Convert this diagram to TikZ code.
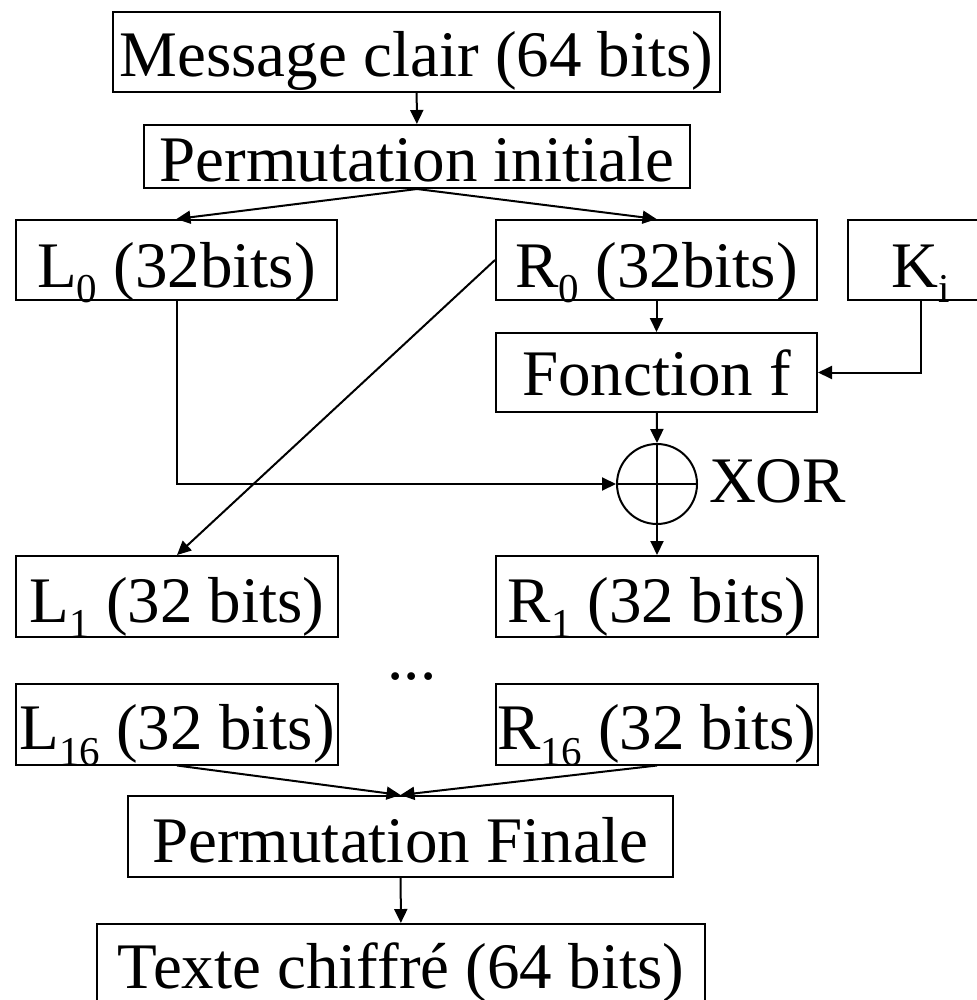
\documentclass[tikz,border=0pt]{standalone}
\usepackage{fontspec}
\setmainfont{Liberation Serif}
\usetikzlibrary{positioning,calc,arrows.meta}

\newcommand{\idx}[1]{\raisebox{-0.24em}{\fontsize{20.5}{20.5}\selectfont #1}}

\begin{document}
\begin{tikzpicture}[x=0.5pt, y=-0.5pt, line width=1pt,
  bloc/.style={draw, inner sep=0pt, text height=33pt, text depth=7.5pt, font=\fontsize{32.5}{39}\selectfont},
  fl/.style={-{Triangle[length=7pt,width=6.5pt]}}]
\useasboundingbox (0,0) rectangle (976,1000);
% top of the cipher
\node[bloc, minimum width=303.5pt, text height=32.5pt] (msg) at (416.5,52) {Message clair (64 bits)};
\node[bloc, minimum width=273pt, text height=28.5pt, text depth=3pt] (pinit) at (417,156.5) {Permutation initiale};
\node[bloc, minimum width=160.5pt, text height=33.5pt, text depth=6.5pt] (L0) at (176.5,260) {L\idx{0} (32bits)};
\node[bloc, minimum width=160.5pt, text height=33.5pt, text depth=6.5pt] (R0) at (656.5,260) {R\idx{0} (32bits)};
\node[bloc, minimum width=73pt, text height=33.5pt, text depth=6.5pt] (Ki) at (921,260) {K\idx{i}};
\node[bloc, minimum width=160.5pt, text height=31pt, text depth=8.5pt] (f) at (656.5,372.5) {Fonction f};
\node[draw, circle, inner sep=0pt, minimum size=40pt] (xor) at (657,484) {};
\draw (xor.north) -- (xor.south) (xor.west) -- (xor.east);
\node[anchor=base west, inner sep=0pt, font=\fontsize{32.5}{39}\selectfont] (xorlbl) at (708,502) {XOR};
% round 1 and round 16
\foreach \n/\x/\y/\t in {L1/177/596.5/L\idx{1} (32 bits), R1/657/596.5/R\idx{1} (32 bits),
    L16/177/724/L\idx{16} (32 bits), R16/657/724/R\idx{16} (32 bits)}
  \node[bloc, minimum width=161pt] (\n) at (\x,\y) {\t};
\node[anchor=base, font=\fontsize{32.5}{39}\selectfont, inner sep=0pt] (dots) at (412,679) {...};
% end
\node[bloc, minimum width=272.5pt] (pfin) at (400.5,836.5) {Permutation Finale};
\node[bloc, minimum width=304pt, text height=32pt, text depth=8pt] (chif) at (401,964) {Texte chiffré (64 bits)};
% arrows
\draw[fl] (msg) -- (pinit);
\draw[fl] (pinit.south) -- (L0.north);
\draw[fl] (pinit.south) -- (R0.north);
\draw[fl] (R0) -- (f);
\draw[fl] (Ki.south) |- (f.east);
\draw[fl] (f) -- (xor.north);
\draw[fl] (L0.south) |- (xor.west);
\draw[fl] (xor.south) -- (R1.north);
\draw[fl] (R0.west) -- (L1.north);
\draw[fl] (L16.south) -- (pfin.north);
\draw[fl] (R16.south) -- (pfin.north);
\draw[fl] (pfin) -- (chif);
\end{tikzpicture}
\end{document}
